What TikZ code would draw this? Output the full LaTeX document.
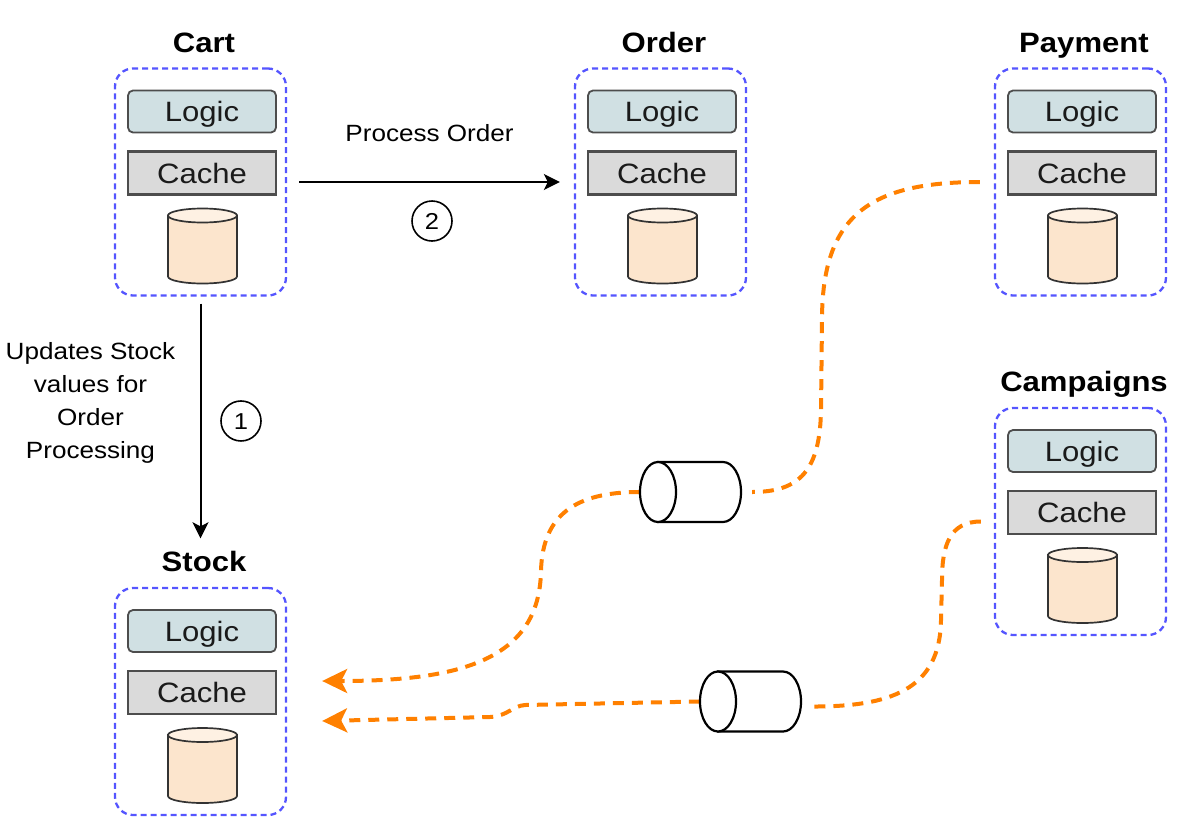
\documentclass[tikz,border=0pt]{standalone}
\usepackage{fontspec}
\newfontfamily\lab{Liberation Sans}[FakeStretch=1.11]
\usetikzlibrary{arrows.meta}
\definecolor{svcblue}{RGB}{85,85,255}
\definecolor{logicfill}{HTML}{D0E0E3}
\definecolor{cachefill}{HTML}{DADADA}
\definecolor{boxedge}{HTML}{4D4D4D}
\definecolor{boxtext}{HTML}{1A1A1A}
\definecolor{dbbody}{HTML}{FCE5CD}
\definecolor{dbtop}{HTML}{FEF1E3}
\definecolor{dbedge}{HTML}{333333}
\definecolor{qorange}{HTML}{FF8000}
\tikzset{
  svcframe/.style={draw=svcblue, line width=2.3pt, dash pattern=on 6pt off 4pt, rounded corners=18pt,
    minimum width=171pt, minimum height=227pt, inner sep=0pt},
  logicbox/.style={draw=boxedge, fill=logicfill, line width=1.8pt, rounded corners=5pt,
    minimum width=148pt, minimum height=42pt, inner sep=0pt,
    font=\lab\fontsize{28}{30}\selectfont, text=boxtext, text height=20pt, text depth=0pt},
  cachebox/.style={logicbox, sharp corners, fill=cachefill, minimum height=43pt, line width=2.2pt},
  dbshape/.style={draw=dbedge, line width=1.7pt},
  svctitle/.style={font=\lab\bfseries\fontsize{28}{30}\selectfont, inner sep=0pt,
    text height=20pt, text depth=0pt, anchor=base},
  flow/.style={line width=2pt, -{Stealth[length=16pt,width=16pt,inset=4pt]}},
  num/.style={circle, draw, line width=1.6pt, minimum size=40pt, inner sep=0pt,
    font=\lab\fontsize{23}{26}\selectfont, text height=16.5pt, text depth=0pt},
  lbl/.style={font=\lab\fontsize{23.5}{33}\selectfont, inner sep=0pt, align=center},
  queue/.style={draw, fill=white, line width=2.2pt},
  qanchor/.style={minimum width=101pt, minimum height=60pt, inner sep=0pt},
  async/.style={draw=qorange, line width=4pt, dash pattern=on 11pt off 8pt},
  asyncarrow/.style={async, -{Stealth[length=25pt,width=24pt,inset=6pt]}},
}
% #1 name, #2 X (left), #3 Y (top), #4 title
\newcommand{\svcblock}[4]{%
  \node[svcframe] (#1) at ({#2+85.5},{#3+113.5}) {};
  \node[svctitle] (#1-title) at ({#2+89},{#3-16.5}) {#4};
  \node[logicbox] (#1-logic) at ({#2+87},{#3+43}) {Logic};
  \node[cachebox] (#1-cache) at ({#2+87},{#3+104.5}) {Cache};
  \filldraw[dbshape, fill=dbbody] ({#2+53},{#3+147}) -- ({#2+53},{#3+208})
    arc[start angle=180, end angle=0, x radius=34.5, y radius=7] -- ({#2+122},{#3+147}) -- cycle;
  \filldraw[dbshape, fill=dbtop] ({#2+87.5},{#3+147}) ellipse[x radius=34.5, y radius=7];
}
% horizontal queue cylinder, centre #1,#2
\newcommand{\queueshape}[2]{%
  \filldraw[queue] ({#1-32.5},{#2-30}) -- ({#1+32.5},{#2-30})
    arc[start angle=-90, end angle=90, x radius=18, y radius=30] -- ({#1-32.5},{#2+30}) -- cycle;
  \filldraw[queue] ({#1-32.5},#2) ellipse[x radius=18, y radius=30];
}
\begin{document}
\begin{tikzpicture}[x=1pt,y=-1pt]
\useasboundingbox (0,0) rectangle (1180,822);

\svcblock{cart}{115}{68.5}{Cart}
\svcblock{order}{575}{68.5}{Order}
\svcblock{payment}{995}{68.5}{Payment}
\svcblock{campaigns}{995}{408}{Campaigns}
\svcblock{stock}{115}{588}{Stock}

\draw[flow] ([yshift=-7pt]cart.south) -- ([yshift=13pt]cart.south |- stock-title.north)
  node[lbl, midway, xshift=-110pt, yshift=18.5pt] (lbl1) {Updates Stock\\values for\\Order\\Processing}
  node[num, midway, xshift=40.5pt] (n1) {1};

\draw[flow] ([xshift=12pt]cart.east) -- ([xshift=-14pt]order.west)
  node[lbl, midway, anchor=base, yshift=41pt] (lbl2) {Process Order}
  node[num, midway, xshift=2.5pt, yshift=-39pt] (n2) {2};

\node[qanchor] (q1) at (690.5,492) {};
\node[qanchor] (q2) at (750.5,701.5) {};

\draw[async] ([xshift=-14pt]payment.west) .. controls (870,182) and (822,215) .. (822,320)
  -- (821,410) .. controls (820,470) and (800,492) .. ([xshift=11pt]q1.east);
\draw[asyncarrow] (q1.west) .. controls (575,492) and (543,515) .. (541,570)
  .. controls (540,660) and (460,681) .. ([xshift=35pt,yshift=20.5pt]stock.east);

\draw[async] ([xshift=-13pt]campaigns.west) .. controls (950,521.5) and (942,545) .. (942,580)
  -- (941,620) .. controls (940,690) and (890,707) .. ([xshift=9pt,yshift=-5pt]q2.east);
\draw[asyncarrow] (q2.west) -- (525,705) .. controls (512,706) and (508,716) .. (490,717)
  -- ([xshift=35pt,yshift=-19.5pt]stock.east);

\queueshape{690.5}{492}
\queueshape{750.5}{701.5}
\end{tikzpicture}
\end{document}
